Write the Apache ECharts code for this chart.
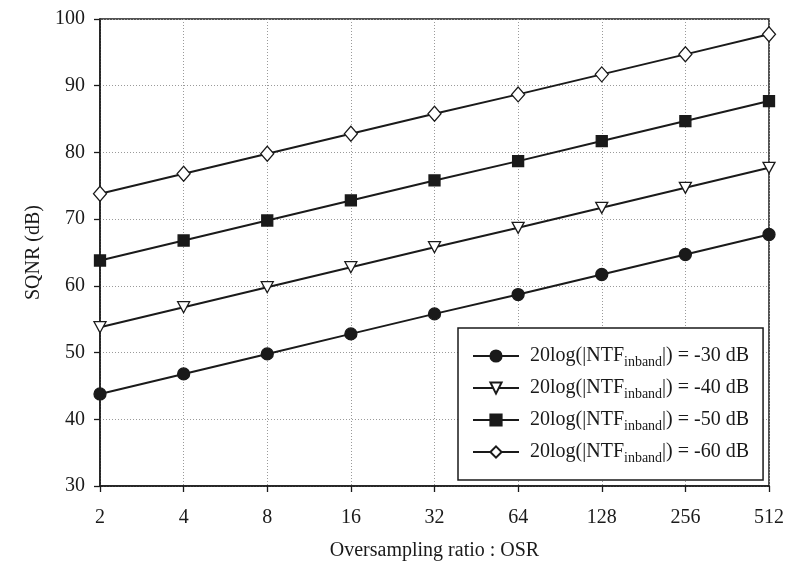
<!DOCTYPE html>
<html>
<head>
<meta charset="utf-8">
<script src="https://cdn.jsdelivr.net/npm/echarts@6/dist/echarts.min.js"></script>
<style>
  html, body { margin: 0; padding: 0; background: #fff; }
  #chart { width: 787px; height: 574px; }
</style>
</head>
<body>
<div id="chart"></div>
<script>
// Oversampling ratios (octave steps)
const osr = ['2', '4', '8', '16', '32', '64', '128', '256', '512'];

// SQNR (dB) for each in-band NTF attenuation
const ntf30 = [43.8, 46.8, 49.8, 52.8, 55.8, 58.7, 61.7, 64.7, 67.7];
const ntf40 = [53.8, 56.8, 59.8, 62.8, 65.8, 68.7, 71.7, 74.7, 77.7];
const ntf50 = [63.8, 66.8, 69.8, 72.8, 75.8, 78.7, 81.7, 84.7, 87.7];
const ntf60 = [73.8, 76.8, 79.8, 82.8, 85.8, 88.7, 91.7, 94.7, 97.7];

const seriesNames = ['-30 dB', '-40 dB', '-50 dB', '-60 dB'];

const FONT = '"Liberation Serif", "DejaVu Serif", serif';
const INK = '#1a1a1a';

const chart = echarts.init(document.getElementById('chart'), null, { renderer: 'canvas' });

function lineSeries(name, data, symbol, size, filled, rotate) {
  return {
    name: name,
    type: 'line',
    data: data,
    symbol: symbol,
    symbolSize: size,
    symbolRotate: rotate || 0,
    showAllSymbol: true,
    lineStyle: { color: INK, width: 2 },
    itemStyle: {
      color: filled ? INK : '#fff',
      borderColor: INK,
      borderWidth: 1.3
    },
    emphasis: { disabled: true },
    z: 3
  };
}

const gridLine = { show: true, lineStyle: { color: '#9a9a9a', type: [1, 2], width: 1 } };

chart.setOption({
  backgroundColor: '#fff',
  animation: false,
  grid: {
    left: 100, right: 16, top: 19, bottom: 88,
    show: true,
    borderColor: INK,
    borderWidth: 1.5,
    backgroundColor: 'transparent'
  },
  xAxis: {
    type: 'category',
    data: osr,
    boundaryGap: false,
    name: 'Oversampling ratio : OSR',
    nameLocation: 'middle',
    nameGap: 55,
    nameTextStyle: { fontFamily: FONT, fontSize: 20, color: INK },
    axisLine: { lineStyle: { color: INK, width: 1.5 } },
    axisTick: { show: true, inside: false, length: 6, alignWithLabel: true, lineStyle: { color: INK, width: 1.3 } },
    axisLabel: { fontFamily: FONT, fontSize: 20, color: INK, margin: 22 },
    splitLine: gridLine
  },
  yAxis: {
    type: 'value',
    min: 30, max: 100, interval: 10,
    name: 'SQNR (dB)',
    nameLocation: 'middle',
    nameGap: 53,
    nameRotate: 90,
    nameTextStyle: { fontFamily: FONT, fontSize: 20, color: INK },
    axisLine: { show: true, lineStyle: { color: INK, width: 1.5 } },
    axisTick: { show: true, inside: false, length: 6, lineStyle: { color: INK, width: 1.3 } },
    axisLabel: { fontFamily: FONT, fontSize: 20, color: INK, margin: 15 },
    splitLine: gridLine
  },
  legend: {
    orient: 'vertical',
    left: 458, top: 328,
    padding: [18, 14, 15, 14],
    itemGap: 9,
    itemWidth: 46,
    itemHeight: 14,
    backgroundColor: '#fff',
    borderColor: INK,
    borderWidth: 1.5,
    selectedMode: false,
    data: seriesNames,
    formatter: function (name) {
      return '20log(|NTF{sub|inband}|) = ' + name;
    },
    textStyle: {
      fontFamily: FONT, fontSize: 20, color: INK,
      padding: [0, 0, 0, 6],
      rich: {
        sub: { fontFamily: FONT, fontSize: 14, color: INK, padding: [12, 0, 0, 0] }
      }
    }
  },
  series: [
    lineSeries(seriesNames[0], ntf30, 'circle', 12, true),
    lineSeries(seriesNames[1], ntf40, 'triangle', [12, 11], false, 180),
    lineSeries(seriesNames[2], ntf50, 'rect', 11, true),
    lineSeries(seriesNames[3], ntf60, 'diamond', [13, 15], false)
  ]
});
</script>
</body>
</html>
